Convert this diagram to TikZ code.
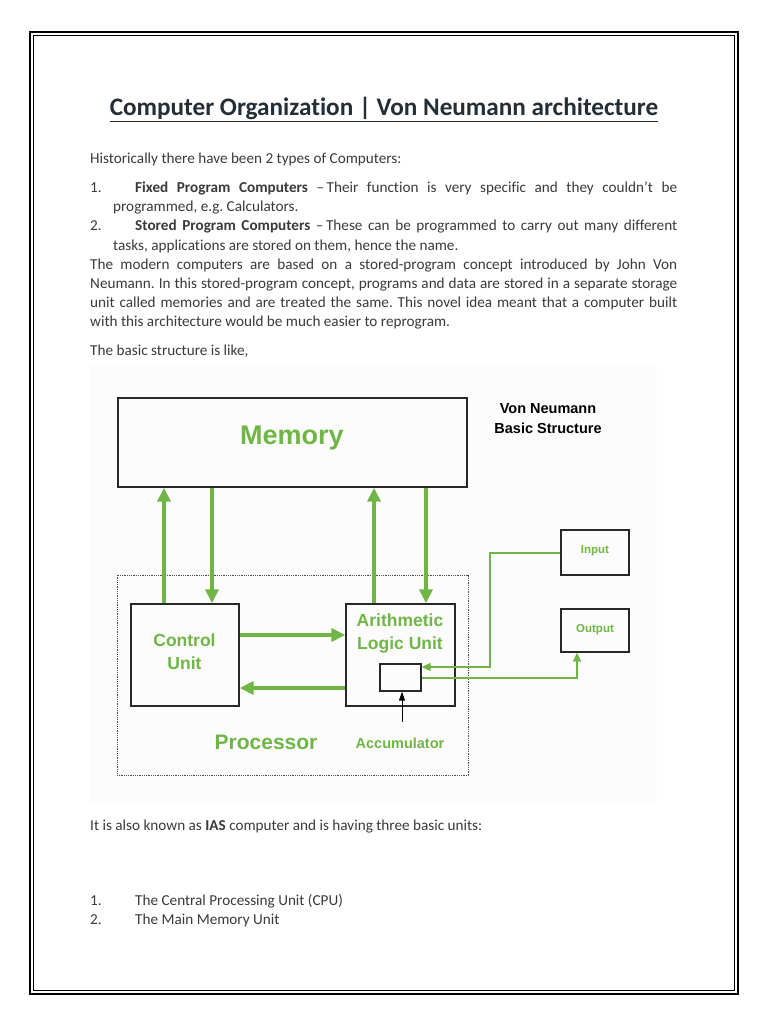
\documentclass[tikz,border=0pt]{standalone}
\usepackage{fontspec}
\setmainfont{Carlito}[Ligatures=NoCommon]
\newfontfamily\diag{Liberation Sans}
\usetikzlibrary{arrows.meta}
\definecolor{vgreen}{RGB}{112,182,70}
\definecolor{bodytxt}{RGB}{58,58,58}
\definecolor{titletxt}{RGB}{36,46,54}
\definecolor{boxline}{RGB}{40,40,40}
\tikzset{
  line/.style={anchor=base west,inner sep=0pt,text=bodytxt,font=\fontsize{15.2}{19}\selectfont},
  ubox/.style={draw=boxline,line width=1.4pt,minimum width=#1,inner sep=0pt},
  bigarrow/.style={draw=vgreen,line width=4.5pt,-{Triangle[length=14pt,width=13pt]}},
  thinarrow/.style={draw=vgreen,line width=2pt,-{Triangle[length=9pt,width=8pt]}},
  gtxt/.style={text=vgreen,font=\diag\bfseries,align=center,inner sep=0pt}
}
\newcommand{\jline}[2]{\makebox[#1][s]{#2}}
\frenchspacing
\begin{document}
\begin{tikzpicture}[x=1pt,y=-1pt]
\useasboundingbox (0,0) rectangle (768,1024);
\fill[white] (0,0) rectangle (768,1024);
% page frame
\draw[line width=1.6pt] (30,32) rectangle (738,994);
\draw[line width=0.6pt] (33.5,35.5) rectangle (734.5,990.5);
% title
\node[anchor=base,inner sep=0pt,text=titletxt,font=\fontsize{25.2}{28}\selectfont\bfseries] (title) at (384,116) {\underline{Computer Organization | Von Neumann architecture}};
% body text
\node[line] (l1) at (90,164) {Historically there have been 2 types of Computers:};
\node[line] (n1) at (90,193) {1.};
\node[line] (l2) at (135,193) {\jline{542pt}{\textbf{Fixed Program Computers} –\,Their function is very specific and they couldn’t be}};
\node[line] (l3) at (113,212) {programmed, e.g. Calculators.};
\node[line] (n2) at (90,231) {2.};
\node[line] (l4) at (135,231) {\jline{542pt}{\textbf{Stored Program Computers} –\,These can be programmed to carry out many different}};
\node[line] (l5) at (113,250) {tasks, applications are stored on them, hence the name.};
\node[line] (l6) at (90,269) {\jline{587pt}{The modern computers are based on a stored-program concept introduced by John Von}};
\node[line] (l7) at (90,288) {\jline{587pt}{Neumann. In this stored-program concept, programs and data are stored in a separate storage}};
\node[line] (l8) at (90,307) {\jline{587pt}{unit called memories and are treated the same. This novel idea meant that a computer built}};
\node[line] (l9) at (90,326) {with this architecture would be much easier to reprogram.};
\node[line] (l10) at (90,355) {The basic structure is like,};
% diagram background
\fill[black!1.2] (90,366) rectangle (657,803);
% boxes
\node[ubox=349pt,minimum height=89pt] (mem) at (292.5,442.5) {};
\node[gtxt,font=\diag\bfseries\fontsize{27}{29}\selectfont] (memlbl) at (292,438) {Memory};
\node[gtxt,text=black,font=\diag\bfseries\fontsize{14.5}{20}\selectfont] (title2) at (548,419) {Von Neumann\\Basic Structure};
\node[ubox=68pt,minimum height=45pt] (inp) at (595,552.5) {};
\node[gtxt,font=\diag\bfseries\fontsize{11.5}{13}\selectfont] (inplbl) at (595,551) {Input};
\node[ubox=68pt,minimum height=43pt] (outp) at (595,630.5) {};
\node[gtxt,font=\diag\bfseries\fontsize{11.5}{13}\selectfont] (outlbl) at (595,629.5) {Output};
\node[draw=black!70,densely dotted,line width=0.8pt,minimum width=351pt,minimum height=200pt,inner sep=0pt] (proc) at (292.5,675) {};
\node[ubox=108pt,minimum height=102pt] (cu) at (185,655) {};
\node[gtxt,font=\diag\bfseries\fontsize{17.5}{23}\selectfont] (culbl) at (184.5,652) {Control\\Unit};
\node[ubox=109pt,minimum height=102pt] (alu) at (400.5,655) {};
\node[gtxt,font=\diag\bfseries\fontsize{17.5}{23}\selectfont] (alulbl) at (400,633.5) {Arithmetic\\Logic Unit};
\node[ubox=41pt,minimum height=27pt] (acc) at (400.5,677.5) {};
\node[gtxt,font=\diag\bfseries\fontsize{14.5}{16}\selectfont] (acclbl) at (400,743) {Accumulator};
\node[gtxt,font=\diag\bfseries\fontsize{21}{24}\selectfont] (proclbl) at (266,742) {Processor};
% big arrows
\coordinate (x1) at (164,0);
\coordinate (x2) at (212,0);
\coordinate (x3) at (374,0);
\coordinate (x4) at (426,0);
\coordinate (y1) at (0,635);
\coordinate (y2) at (0,688);
\draw[bigarrow] (x1 |- cu.north) -- (x1 |- mem.south);
\draw[bigarrow] (x2 |- mem.south) -- (x2 |- cu.north);
\draw[bigarrow] (x3 |- alu.north) -- (x3 |- mem.south);
\draw[bigarrow] (x4 |- mem.south) -- (x4 |- alu.north);
\draw[bigarrow] (cu.east |- y1) -- (alu.west |- y1);
\draw[bigarrow] (alu.west |- y2) -- (cu.east |- y2);
% thin arrows
\coordinate (bx) at (490,0);
\coordinate (iy) at (0,667);
\coordinate (oy) at (0,678);
\draw[thinarrow] (inp.west) -| (bx |- iy) -- (acc.east |- iy);
\draw[thinarrow] (acc.east |- oy) -| (outp.south -| 577,0);
% accumulator pointer
\coordinate (accp) at (402,722);
\draw[line width=1pt,-{Triangle[length=9pt,width=6pt]}] (accp) -- (accp |- acc.south);
% bottom text
\node[line] (l11) at (90,830) {It is also known as \textbf{IAS} computer and is having three basic units:};
\node[line] (n3) at (90,905) {1.};
\node[line] (l12) at (135,905) {The Central Processing Unit (CPU)};
\node[line] (n4) at (90,924) {2.};
\node[line] (l13) at (135,924) {The Main Memory Unit};
\end{tikzpicture}
\end{document}
